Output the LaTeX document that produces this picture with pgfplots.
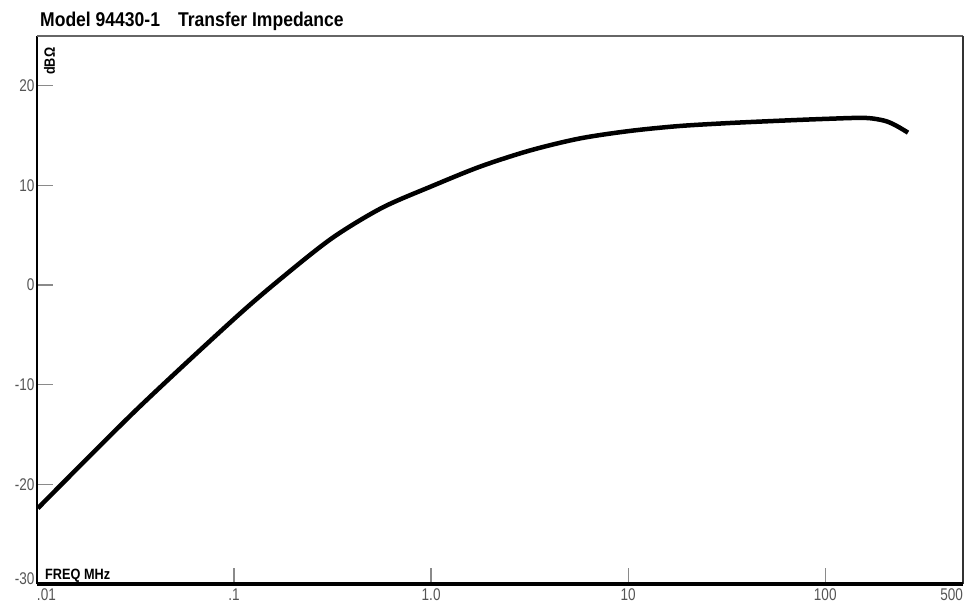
\documentclass[border=0pt]{standalone}
\usepackage{pgfplots}
\pgfplotsset{compat=1.18}
\usepackage{fontspec}
\setmainfont{Liberation Sans}
\newfontfamily\cond[FakeStretch=0.85]{Liberation Sans}
\newfontfamily\condtitle[FakeStretch=0.88]{Liberation Sans}
\newfontfamily\condtick[FakeStretch=0.8]{Liberation Sans}
\definecolor{lblgray}{HTML}{555555}
\definecolor{tickgray}{HTML}{8A8A8A}
\begin{document}
\begin{tikzpicture}
\begin{axis}[
  xmode=log, log basis x=10,
  xmin=0.01, xmax=500, ymin=-30, ymax=25,
  width=926bp, height=548bp, scale only axis,
  axis line style={draw=none},
  xtick={0.1,1,10,100}, xticklabels={.1,1.0,10,100},
  extra x ticks={0.01,500},
  extra x tick labels={\makebox[0pt][l]{.01},\makebox[0pt][r]{500}},
  extra x tick style={major tick length=0pt},
  ytick={-20,-10,0,10,20}, yticklabels={-20,-10,0,10,20},
  extra y ticks={-30}, extra y tick labels={-30},
  extra y tick style={major tick length=0pt, yticklabel style={yshift=5bp}},
  minor x tick num=0, xminorticks=false,
  xtick pos=bottom, ytick pos=left, tick align=inside,
  major tick length=16bp,
  tick style={tickgray, line width=1.3bp},
  ticklabel style={font=\condtick\fontsize{17}{17}\selectfont, text=lblgray},
  yticklabel style={xshift=1bp},
  xticklabel style={yshift=-1bp},
  clip=false,
]
\addplot[black, line width=4.5bp, smooth, tension=0.5] table {
x y
0.0101 -22.40
0.03162 -12.60
0.1 -3.40
0.1778 0.85
0.3162 4.75
0.5623 7.75
1.0 9.90
1.778 11.90
3.162 13.50
5.623 14.70
10.0 15.45
17.78 15.95
31.62 16.25
56.23 16.48
100 16.68
158.5 16.78
199.5 16.50
229.1 16.00
263 15.30
};
\draw[black, line width=1.5bp] (rel axis cs:0,0) -- (rel axis cs:0,1);
\draw[gray!80!black, line width=1.8bp] (rel axis cs:0,1) -- (rel axis cs:1,1);
\draw[gray!40!black, line width=1.5bp] (rel axis cs:1,1) -- (rel axis cs:1,0);
\draw[black, line width=4bp] (rel axis cs:0,0) -- (rel axis cs:1,0);
\node[anchor=base west, font=\condtitle\bfseries\fontsize{20}{20}\selectfont, inner sep=0pt]
  at ([shift={(3bp,9bp)}]rel axis cs:0,1) {Model 94430-1\hspace{18bp}Transfer Impedance};
\node[anchor=base west, font=\cond\bfseries\fontsize{15}{15}\selectfont, inner sep=0pt]
  at ([shift={(8bp,5bp)}]rel axis cs:0,0) {FREQ MHz};
\node[anchor=base west, rotate=90, font=\cond\bfseries\fontsize{15}{15}\selectfont, inner sep=0pt]
  at ([shift={(18bp,-39bp)}]rel axis cs:0,1) {dBΩ};
\path ([shift={(-37bp,-24bp)}]rel axis cs:0,0) rectangle ([shift={(7bp,36bp)}]rel axis cs:1,1);
\end{axis}
\end{tikzpicture}
\end{document}
